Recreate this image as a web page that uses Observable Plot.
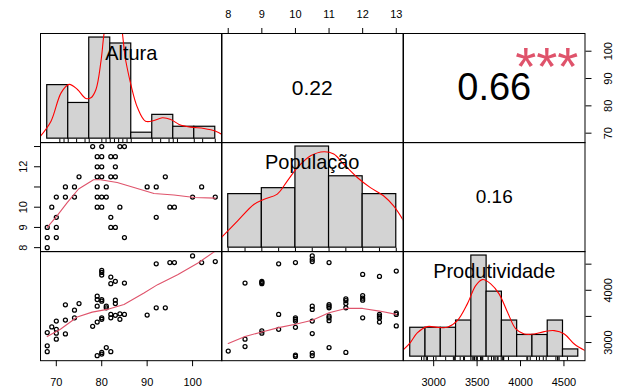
<!DOCTYPE html>
<html><head><meta charset="utf-8">
<script src="https://cdn.jsdelivr.net/npm/d3@7"></script>
<script src="https://cdn.jsdelivr.net/npm/@observablehq/plot@0.6"></script>
<style>
body{margin:0;background:#fff;}
#chart{position:relative;width:617px;height:389px;overflow:hidden;background:#fff;}
</style></head><body><div id="chart"></div>
<script>
// ---------------- data ----------------
const variables = ["Altura", "População", "Produtividade"];
const nObs = 57;
// correlations: [Altura-População, Altura-Produtividade, População-Produtividade]
const correlations = [0.22, 0.66, 0.16];
const significance = ["", "***", ""];

const alturaBreaks = [65, 70, 75, 80, 85, 90, 95, 100, 105];
const alturaCounts = [9, 6, 17, 16, 1, 4, 2, 2];
const popBreaks = [8, 9, 10, 11, 12, 13];
const popCounts = [9, 10, 17, 12, 9];
const prodBreaks = [2600, 2800, 3000, 3200, 3400, 3600, 3800, 4000, 4200, 4400, 4600, 4800];
const prodCounts = [4, 4, 4, 5, 14, 9, 5, 3, 3, 5, 1];

const alturaDensity = [[63.4,0.0015],[65.9,0.0103],[68.3,0.027],[70.2,0.032],[72.2,0.029],[74.2,0.0237],[75.4,0.0241],[76.6,0.029],[77.8,0.0458],[78.5,0.0615],[79.6,0.078],[81.4,0.078],[83.7,0.0458],[84.9,0.032],[86.5,0.0182],[88.4,0.0103],[90.4,0.0107],[92.4,0.0123],[94.4,0.0113],[96.4,0.0084],[99.1,0.0068],[102.3,0.006],[105.1,0.0044],[106.6,0.0025]];
const popDensity = [[7.8,0.030],[8.28,0.079],[8.77,0.128],[9.07,0.143],[9.46,0.158],[9.76,0.197],[10.06,0.236],[10.45,0.271],[10.85,0.283],[11.14,0.276],[11.44,0.246],[11.84,0.207],[12.23,0.177],[12.62,0.153],[12.92,0.123],[13.2,0.082]];
const prodDensity = [[2512,0.000085],[2604,0.000174],[2692,0.000288],[2823,0.000365],[2954,0.000356],[3086,0.000356],[3217,0.000438],[3348,0.000641],[3457,0.000863],[3545,0.000936],[3654,0.000884],[3763,0.000762],[3874,0.000539],[3982,0.000337],[4092,0.000276],[4223,0.000276],[4354,0.000304],[4485,0.000316],[4617,0.000276],[4748,0.000154],[4888,0.000073]];

// scatter points [x, y]
const popVsAltura = [[78,13],[80,13],[84,13],[85,13],[79,12.5],[80,12.5],[82,12.5],[83,12.5],[79,12],[80,12],[83,12],
 [75,11.5],[79,11.5],[80,11.5],[82,11.5],[83,11.5],[94,11.5],[72,11],[74,11],[79,11],[81,11],[90,11],[92,11],[102,11],
 [70,10.5],[72,10.5],[74,10.5],[79,10.5],[80,10.5],[81,10.5],[100,10.5],[105,10.5],[69,10],[79,10],[80,10],[84,10],[95,10],[96,10],
 [70,9.5],[82,9.5],[92,9.5],[68,9],[70,9],[82,9],[83,9],[68,8.5],[70,8.5],[85,8.5],[68,8]];
const prodVsAltura = [[68,2937],[68,2824],[68,3190],[69,3298],[70,3254],[70,3178],[70,3064],[70,3412],[72,3431],[72,3165],[72,3721],
 [74,3620],[74,3474],[75,3747],[78,3311],[79,3393],[79,3886],[79,3823],[79,3696],[79,2748],[80,3823],[80,3791],[80,3474],[80,3444],
 [80,4380],[80,4342],[80,4291],[80,2780],[80,2810],[81,2905],[81,3696],[81,3664],[82,4253],[82,4127],[82,3539],[82,3474],[82,2824],
 [83,4171],[83,3810],[83,3747],[83,3520],[84,3550],[84,3444],[85,4138],[85,3539],[90,3525],[92,4507],[92,3664],[94,3664],
 [95,4531],[96,4531],[100,4658],[102,4531],[105,4550]];
const prodVsPop = [[8,2837],[8.5,4138],[8.5,3064],[8.5,2924],[9,4171],[9,4150],[9,4127],[9,3222],[9,3178],[9.5,4507],[9.5,3539],[9.5,3254],
 [10,4531],[10,3474],[10,3444],[10,3412],[10,3292],[10,2761],[10,2735],[10.5,4658],[10.5,4595],[10.5,4550],[10.5,3696],[10.5,3633],
 [10.5,3412],[10.5,3171],[10.5,2799],[10.5,2748],[11,4531],[11,3728],[11,3696],[11,3664],[11,3505],[11,3470],[11,3417],[11,2905],
 [11.5,3835],[11.5,3800],[11.5,3747],[11.5,3664],[11.5,2810],[12,4304],[12,3899],[12,3850],[12,3810],[12,3474],
 [12.5,4266],[12.5,3539],[12.5,3505],[12.5,3470],[12.5,3393],[13,4367],[13,3569],[13,3539],[13,3317]];

const loessPopAltura = [[68,9.0],[70.15,9.57],[72.4,10.23],[74.9,10.9],[78.2,11.36],[79.7,11.36],[83.4,11.22],[87.1,10.97],[91.5,10.68],[95.9,10.6],[100.4,10.48],[105,10.45]];
const loessProdAltura = [[68,3114],[70.9,3254],[74.6,3488],[77.9,3582],[81.2,3634],[84.9,3729],[89.3,3949],[92.3,4108],[96.7,4298],[101.1,4518],[105,4750]];
const loessProdPop = [[8,2981],[8.5,3114],[9,3203],[9.5,3285],[10,3349],[10.5,3425],[11,3569],[11.5,3653],[12,3653],[12.5,3602],[13,3539]];

const alturaRange = [68, 105];
const popRange = [8, 13];
const prodRange = [2730, 4665];

const alturaTicks = [70, 80, 90, 100];
const popTicks = [8, 9, 10, 11, 12, 13];
const popLeftLabels = [8, 9, 10, 12];
const prodTicks = [3000, 3500, 4000, 4500];
const prodRightLabels = [3000, 4000];

// ---------------- layout ----------------
const chart = document.getElementById("chart");
const M = 40;
const colX = [39.5, 221, 402.5, 584];
const rowY = [32.5, 141.7, 250.9, 360.1];
const FONT = '"Liberation Sans", Arial, Helvetica, sans-serif';
const ext = r => [r[0] - 0.04 * (r[1] - r[0]), r[1] + 0.04 * (r[1] - r[0])];
const alturaDom = ext(alturaRange), popDom = ext(popRange), prodDom = ext(prodRange);

function place(row, col, opts) {
  const w = colX[col + 1] - colX[col], h = rowY[row + 1] - rowY[row];
  const svg = Plot.plot({
    width: w + 2 * M, height: h + 2 * M, margin: M,
    style: {background: "transparent", overflow: "visible", fontFamily: FONT, fontSize: "11px", color: "black"},
    ...opts(w, h)
  });
  svg.style.position = "absolute";
  svg.style.left = (colX[col] - M) + "px";
  svg.style.top = (rowY[row] - M) + "px";
  svg.style.maxWidth = "none";
  chart.appendChild(svg);
}

const tickLabel = d => String(d);
const axB = ticks => Plot.axisX({anchor: "bottom", ticks, tickSize: 6, tickFormat: () => "", stroke: "black"});
const axT = ticks => Plot.axisX({anchor: "top", ticks, tickSize: 6, tickFormat: () => "", stroke: "black"});
const axL = ticks => Plot.axisY({anchor: "left", ticks, tickSize: 6, tickFormat: () => "", stroke: "black"});
const axR = ticks => Plot.axisY({anchor: "right", ticks, tickSize: 6, tickFormat: () => "", stroke: "black"});
const labB = l => Plot.text(l, {x: d => d, frameAnchor: "bottom", dy: 22, text: tickLabel, fontSize: 11, textAnchor: "middle", lineAnchor: "middle", fill: "black"});
const labT = l => Plot.text(l, {x: d => d, frameAnchor: "top", dy: -18.8, text: tickLabel, fontSize: 11, textAnchor: "middle", lineAnchor: "middle", fill: "black"});
const labL = l => Plot.text(l, {y: d => d, frameAnchor: "left", dx: -17.4, rotate: -90, text: tickLabel, fontSize: 11, textAnchor: "middle", lineAnchor: "middle", fill: "black"});
const labR = l => Plot.text(l, {y: d => d, frameAnchor: "right", dx: 23, rotate: -90, text: tickLabel, fontSize: 11, textAnchor: "middle", lineAnchor: "middle", fill: "black"});

function histPanel(row, col, label, breaks, counts, density, rug) {
  const bins = counts.map((c, i) => ({x1: breaks[i], x2: breaks[i + 1], d: c / (nObs * (breaks[i + 1] - breaks[i]))}));
  const dmax = d3.max(bins, b => b.d);
  place(row, col, (w, h) => ({
    x: {domain: ext([breaks[0], breaks[breaks.length - 1]]), axis: null},
    y: {domain: [-0.04 * dmax, 1.04 * dmax], axis: null},
    marks: [
      Plot.rectY(bins, {x1: "x1", x2: "x2", y: "d", fill: "#d3d3d3", stroke: "black", strokeWidth: 1.2}),
      Plot.line(density, {x: d => d[0], y: d => d[1], stroke: "#ff0000", strokeWidth: 1.1, curve: "catmull-rom", clip: true}),
      Plot.tickX(rug, {x: d => d, insetTop: h - 3.5, stroke: "black", strokeWidth: 1}),
      Plot.text([label], {frameAnchor: "top", dy: 20.5, text: d => d, fontSize: 20, textAnchor: "middle", lineAnchor: "middle", fill: "black"}),
      Plot.frame({stroke: "black"})
    ]
  }));
}

function scatterPanel(row, col, pts, loess, xDom, yDom, extra = []) {
  place(row, col, () => ({
    x: {domain: xDom, axis: null},
    y: {domain: yDom, axis: null},
    marks: [
      Plot.dot(pts, {x: d => d[0], y: d => d[1], r: 2, stroke: "black", fill: "none", strokeWidth: 1.25}),
      Plot.line(loess, {x: d => d[0], y: d => d[1], stroke: "#DF536B", strokeWidth: 1.1, clip: true}),
      ...extra,
      Plot.frame({stroke: "black"})
    ]
  }));
}

function corPanel(row, col, r, stars, size, scales, extra = []) {
  place(row, col, () => ({
    ...scales,
    marks: [
      Plot.text([r.toFixed(2)], {frameAnchor: "middle", text: d => d, fontSize: size, textAnchor: "middle", lineAnchor: "middle", fill: "black"}),
      Plot.text(stars ? [stars] : [], {frameAnchor: "top-right", dx: -38.2, dy: 34.5, text: d => d, fontSize: 54, textAnchor: "middle", lineAnchor: "middle", fill: "#DF536B"}),
      ...extra,
      Plot.frame({stroke: "black"})
    ]
  }));
}

const alturaRug = Array.from(new Set(prodVsAltura.map(d => d[0])));
const popRug = Array.from(new Set(popVsAltura.map(d => d[1])));
const prodRug = prodVsAltura.map(d => d[1]);

// row 1
histPanel(0, 0, variables[0], alturaBreaks, alturaCounts, alturaDensity, alturaRug);
corPanel(0, 1, correlations[0], significance[0], 21, {x: {domain: popDom}}, [axT(popTicks), labT(popTicks)]);
corPanel(0, 2, correlations[1], significance[1], 38, {y: {domain: alturaDom}}, [axR(alturaTicks), labR(alturaTicks)]);
// row 2
scatterPanel(1, 0, popVsAltura, loessPopAltura, alturaDom, popDom, [axL(popTicks), labL(popLeftLabels)]);
histPanel(1, 1, variables[1], popBreaks, popCounts, popDensity, popRug);
corPanel(1, 2, correlations[2], significance[2], 19, {});
// row 3
scatterPanel(2, 0, prodVsAltura, loessProdAltura, alturaDom, prodDom, [axB(alturaTicks), labB(alturaTicks)]);
scatterPanel(2, 1, prodVsPop, loessProdPop, popDom, prodDom);
histPanel(2, 2, variables[2], prodBreaks, prodCounts, prodDensity, prodRug);
// axes of the Produtividade diagonal panel (data scale)
place(2, 2, () => ({
  x: {domain: prodDom}, y: {domain: prodDom},
  marks: [axB(prodTicks), labB(prodTicks), axR(prodTicks), labR(prodRightLabels)]
}));
</script></body></html>
